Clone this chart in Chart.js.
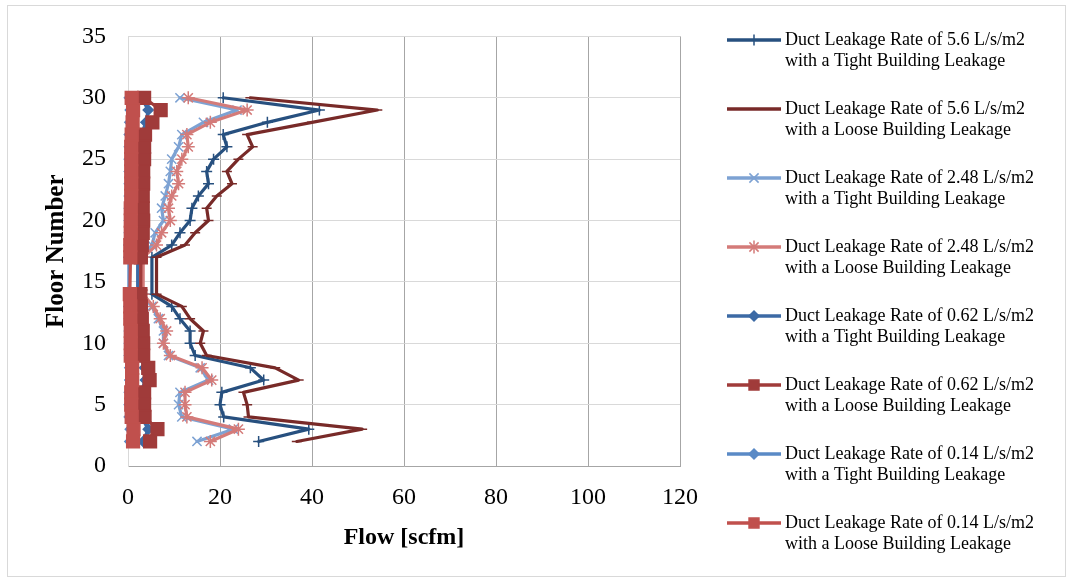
<!DOCTYPE html>
<html>
<head>
<meta charset="utf-8">
<script src="https://cdn.jsdelivr.net/npm/chart.js@4"></script>
<style>
    html, body { margin: 0; padding: 0; background: #fff; }
</style>
</head>
<body>
<canvas id="flowChart" width="1073" height="582"></canvas>
<script>
// floor numbers, top of the building first; floors 15 and 16 have no reading
const floors = [30, 29, 28, 27, 26, 25, 24, 23, 22, 21, 20, 19, 18, 17, 16, 15, 14, 13, 12, 11, 10, 9, 8, 7, 6, 5, 4, 3, 2];

const rate56Tight  = [20.7, 41.6, 30.3, 20.7, 21.5, 18.6, 17.1, 17.5, 15.3, 13.9, 13.5, 11.3, 9.5, 5.2, null, null, 5.2, 9.5, 11.3, 13.5, 13.5, 14.6, 26.6, 29.5, 20.4, 20.0, 20.8, 39.3, 28.4];
const rate56Loose  = [26.6, 54.2, 40.0, 25.9, 27.1, 24.0, 21.5, 22.6, 19.3, 17.1, 17.5, 14.6, 12.4, 6.2, null, null, 6.2, 11.7, 13.5, 16.4, 15.7, 17.1, 32.0, 37.1, 25.1, 25.9, 26.2, 50.9, 36.7];
const rate248Tight = [11.3, 23.7, 16.4, 11.7, 11.0, 9.5, 9.2, 8.8, 8.1, 7.3, 7.7, 5.9, 5.2, 3.0, null, null, 3.0, 5.2, 6.6, 7.7, 7.7, 8.8, 15.7, 17.5, 11.3, 11.0, 11.7, 22.9, 15.0];
const rate248Loose = [13.1, 25.9, 17.9, 12.8, 13.1, 11.7, 10.6, 11.0, 9.5, 8.8, 9.2, 7.3, 6.2, 3.3, null, null, 3.3, 5.5, 7.0, 8.4, 7.7, 9.2, 16.1, 18.2, 12.4, 12.4, 12.8, 24.0, 17.9];
const rate062Tight = [2.9, 4.4, 3.9, 2.9, 2.8, 2.8, 2.7, 2.7, 2.6, 2.5, 2.5, 2.4, 2.3, 2.1, null, null, 2.1, 2.3, 2.4, 2.5, 2.5, 2.6, 3.6, 3.8, 2.8, 2.8, 2.9, 4.4, 3.3];
const rate062Loose = [3.5, 7.1, 5.3, 3.7, 3.5, 3.5, 3.3, 3.3, 3.2, 3.2, 3.3, 3.2, 3.0, 2.8, null, null, 2.7, 2.8, 3.0, 3.2, 3.3, 3.3, 4.4, 4.7, 3.5, 3.5, 3.6, 6.4, 4.8];
const rate014Tight = [0.3, 0.5, 0.4, 0.3, 0.3, 0.3, 0.3, 0.3, 0.3, 0.3, 0.3, 0.3, 0.2, 0.2, null, null, 0.2, 0.2, 0.3, 0.3, 0.3, 0.3, 0.4, 0.4, 0.3, 0.3, 0.3, 0.5, 0.4];
const rate014Loose = [0.8, 1.1, 1.0, 0.8, 0.7, 0.7, 0.7, 0.7, 0.7, 0.6, 0.6, 0.6, 0.5, 0.5, null, null, 0.4, 0.5, 0.5, 0.6, 0.6, 0.6, 0.9, 0.9, 0.7, 0.7, 0.8, 1.2, 1.1];

const leakageRates = ['5.6', '5.6', '2.48', '2.48', '0.62', '0.62', '0.14', '0.14'];
const buildingTypes = ['Tight', 'Loose', 'Tight', 'Loose', 'Tight', 'Loose', 'Tight', 'Loose'];
const seriesValues = [rate56Tight, rate56Loose, rate248Tight, rate248Loose, rate062Tight, rate062Loose, rate014Tight, rate014Loose];

const xTicks = [0, 20, 40, 60, 80, 100, 120];
const yTicks = [0, 5, 10, 15, 20, 25, 30, 35];

const colors = ['#27507F', '#782A28', '#7DA2D3', '#D47B79', '#3C6AA5', '#A03B3A', '#5A8AC6', '#C0504D'];
const markers = ['cross', 'line', 'crossRot', 'star', 'rectRot', 'rect', 'rectRot', 'rect'];
const markerSizes = [5.5, 5, 6.5, 6.5, 5, 9, 5, 9];

const serif = '"Liberation Serif", "Times New Roman", serif';

const datasets = seriesValues.map((vals, i) => ({
    label: `Duct Leakage Rate of ${leakageRates[i]} L/s/m2 with a ${buildingTypes[i]} Building Leakage`,
    data: floors.map((f, k) => ({ x: vals[k], y: f })).filter(p => p.x !== null),
    borderColor: colors[i],
    backgroundColor: colors[i],
    pointBackgroundColor: colors[i],
    pointBorderColor: colors[i],
    pointStyle: markers[i],
    pointRadius: markerSizes[i],
    pointBorderWidth: 1.5,
    borderWidth: 3.2,
    borderJoinStyle: 'round',
    borderCapStyle: 'round',
    tension: 0,
    spanGaps: true,
    clip: 12,
    order: 8 - i
}));

// white page with a thin frame round the whole chart
const frame = {
    id: 'frame',
    beforeDraw(chart) {
        const ctx = chart.ctx;
        ctx.save();
        ctx.fillStyle = '#fff';
        ctx.fillRect(0, 0, chart.width, chart.height);
        ctx.strokeStyle = '#D9D9D9';
        ctx.lineWidth = 1;
        ctx.strokeRect(7.5, 5.5, 1058, 571);
        ctx.restore();
    }
};

// legend on the right, two text lines per entry
const sideLegend = {
    id: 'sideLegend',
    afterDraw(chart) {
        const ctx = chart.ctx;
        ctx.save();
        chart.data.datasets.forEach((ds, i) => {
            const y = 40 + i * 69;
            ctx.strokeStyle = ds.borderColor;
            ctx.lineWidth = 3.5;
            ctx.beginPath();
            ctx.moveTo(727, y);
            ctx.lineTo(781, y);
            ctx.stroke();
            ctx.fillStyle = ds.pointBackgroundColor;
            ctx.lineWidth = ds.pointBorderWidth;
            Chart.helpers.drawPoint(ctx, {
                pointStyle: ds.pointStyle,
                radius: ds.pointStyle === 'rect' ? 7 : ds.pointRadius,
                borderWidth: ds.pointBorderWidth,
                rotation: 0
            }, 754, y);
            ctx.fillStyle = '#000';
            ctx.font = '18px ' + serif;
            ctx.textBaseline = 'middle';
            ctx.textAlign = 'left';
            ctx.fillText(`Duct Leakage Rate of ${leakageRates[i]} L/s/m2`, 785, y);
            ctx.fillText(`with a ${buildingTypes[i]} Building Leakage`, 785, y + 21);
        });
        ctx.restore();
    }
};

const chart = new Chart(document.getElementById('flowChart'), {
    type: 'line',
    data: { datasets: datasets },
    options: {
        responsive: false,
        animation: false,
        events: [],
        layout: { padding: { left: 0, top: 35, right: 393, bottom: 0 } },
        plugins: {
            legend: { display: false },
            tooltip: { enabled: false }
        },
        scales: {
            x: {
                type: 'linear',
                min: 0,
                max: 120,
                afterBuildTicks: s => { s.ticks = xTicks.map(v => ({ value: v })); },
                afterFit: s => { s.height = 116; },
                ticks: {
                    color: '#000',
                    padding: 17,
                    font: { family: serif, size: 24 }
                },
                grid: {
                    drawTicks: false,
                    color: ctx => ctx.index === 0 ? '#D9D9D9' : '#A6A6A6',
                    lineWidth: 1
                },
                border: { color: '#A6A6A6' },
                title: {
                    display: true,
                    text: 'Flow [scfm]',
                    color: '#000',
                    padding: { bottom: 30 },
                    font: { family: serif, size: 24, weight: 'bold' }
                }
            },
            y: {
                type: 'linear',
                min: 0,
                max: 35,
                afterBuildTicks: s => { s.ticks = yTicks.map(v => ({ value: v })); },
                afterFit: s => { s.width = 128; },
                ticks: {
                    color: '#000',
                    padding: 22,
                    font: { family: serif, size: 24 }
                },
                grid: {
                    drawTicks: false,
                    color: '#D9D9D9',
                    lineWidth: 1
                },
                border: { color: '#D9D9D9' },
                title: {
                    display: true,
                    text: 'Floor Number',
                    color: '#000',
                    padding: { top: 42 },
                    font: { family: serif, size: 25, weight: 'bold' }
                }
            }
        }
    },
    plugins: [frame, sideLegend]
});
</script>
</body>
</html>
